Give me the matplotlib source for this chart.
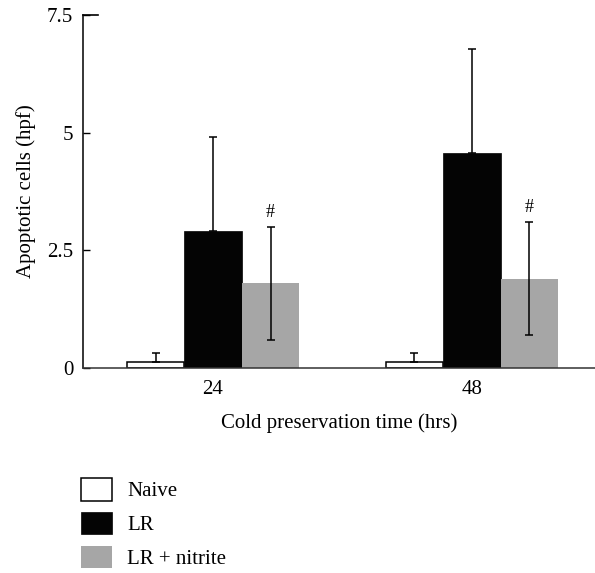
import matplotlib
matplotlib.use("Agg")
import matplotlib.pyplot as plt
import numpy as np

# values
times = ["24", "48"]
groups = ["Naive", "LR", "LR + nitrite"]
naive = [0.12, 0.12]
naive_err = [0.19, 0.19]
lr = [2.9, 4.57]
lr_err = [2.0, 2.2]
nitrite = [1.8, 1.9]
nitrite_err = [1.2, 1.2]
marks = ["#", "#"]

plt.rcParams["font.family"] = ["Liberation Serif", "DejaVu Serif"]
plt.rcParams["font.size"] = 15

fig = plt.figure(figsize=(5.95, 5.73), dpi=100)
ax = fig.add_axes([0.1395, 0.3578, 0.8605, 0.616])

x = np.arange(len(times))
w = 0.222
ekw = dict(ecolor="black", elinewidth=1.1, capsize=3.2, capthick=1.1)
# only the upper half of the whisker shows on the white and black bars
up_only = lambda e: [np.zeros(len(e)), e]

b1 = ax.bar(x - w, naive, w, color="white", edgecolor="black", linewidth=1.1,
            yerr=up_only(naive_err), error_kw=ekw, label=groups[0])
b2 = ax.bar(x, lr, w, color="#040404", edgecolor="#040404", linewidth=0.5,
            yerr=up_only(lr_err), error_kw=ekw, label=groups[1])
b3 = ax.bar(x + w, nitrite, w, color="#a6a6a6", linewidth=0,
            yerr=nitrite_err, error_kw=ekw, label=groups[2])

for xi, v, e, m in zip(x + w, nitrite, nitrite_err, marks):
    ax.text(xi, v + e + 0.12, m, ha="center", va="bottom", fontsize=13)

ax.set_xlim(-0.502, 1.475)
ax.set_ylim(0, 7.5)
ax.set_yticks([0, 2.5, 5, 7.5])
ax.set_yticklabels(["0", "2.5", "5", "7.5"])
ax.set_xticks(x)
ax.set_xticklabels(times)
ax.tick_params(axis="y", direction="in", length=5, width=1, pad=7)
ax.tick_params(axis="x", length=0, pad=9)
# longer top tick
ax.plot([0, 0.03], [7.5, 7.5], color="black", lw=1.2, transform=ax.get_yaxis_transform(),
        clip_on=False)

for s in ["top", "right"]:
    ax.spines[s].set_visible(False)
ax.spines["left"].set_linewidth(1.1)
ax.spines["bottom"].set_linewidth(1.1)
ax.spines["bottom"].set_color("#333333")

ax.set_ylabel("Apoptotic cells (hpf)", labelpad=8)
ax.set_xlabel("Cold preservation time (hrs)", labelpad=10)

fig.legend(handles=[b1, b2, b3], labels=groups, loc="upper left",
           bbox_to_anchor=(81 / 595, 1 - 478 / 573), frameon=False,
           borderpad=0, borderaxespad=0, handlelength=1.49, handleheight=1.3,
           handletextpad=0.72, labelspacing=0.5)

fig.savefig("out.png", dpi=100)
